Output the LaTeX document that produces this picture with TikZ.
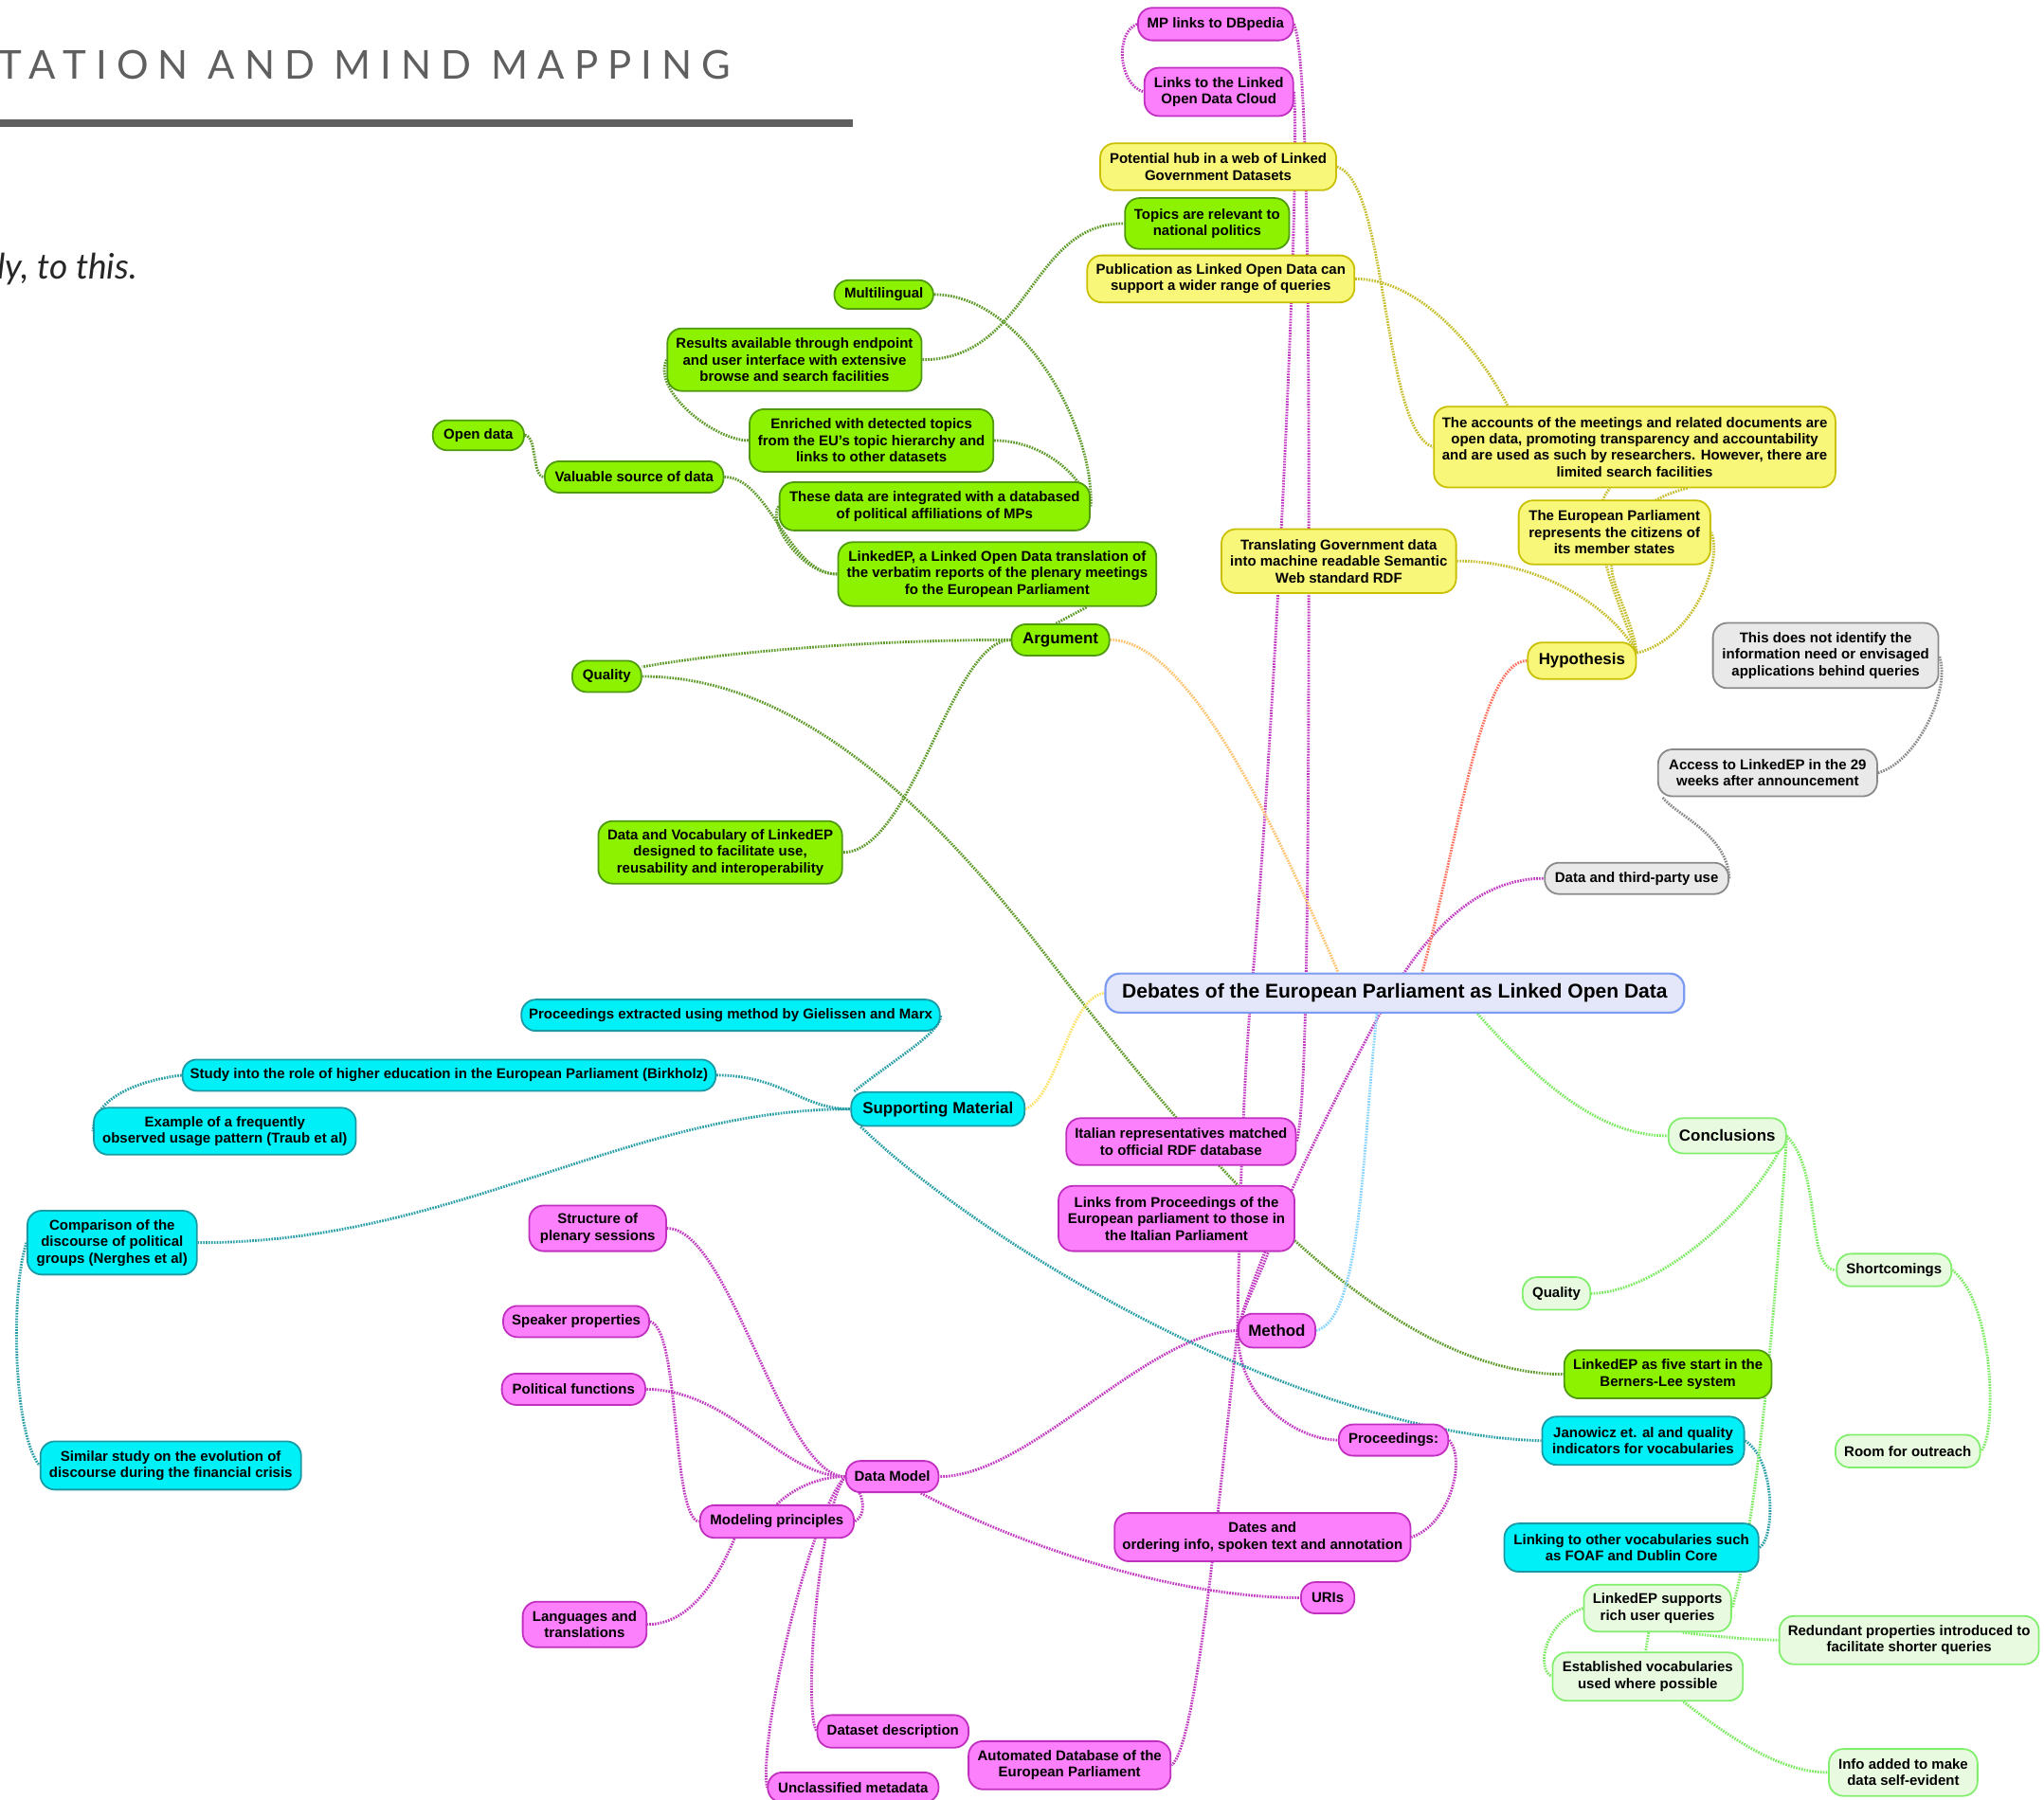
\documentclass[tikz,border=0pt]{standalone}
\usepackage{fontspec}
\setmainfont{Liberation Sans}
\newfontfamily\titlefont{Lato}[LetterSpace=24]
\newfontfamily\subfont{Lato}
\pgfdeclarelayer{bg}
\pgfsetlayers{bg,main}
\definecolor{gfill}{HTML}{8CF200}
\definecolor{gdraw}{HTML}{4F9A10}
\definecolor{gline}{HTML}{5E9B2A}
\definecolor{yfill}{HTML}{F9F77A}
\definecolor{ydraw}{HTML}{C8C000}
\definecolor{yline}{HTML}{C6BE2C}
\definecolor{mfill}{HTML}{FC80FC}
\definecolor{mdraw}{HTML}{C02FC0}
\definecolor{mline}{HTML}{C23AC2}
\definecolor{cfill}{HTML}{00F0F8}
\definecolor{cdraw}{HTML}{1A9AA4}
\definecolor{cline}{HTML}{2A9FA8}
\definecolor{grfill}{HTML}{E9E9E9}
\definecolor{grdraw}{HTML}{8A8A8A}
\definecolor{grline}{HTML}{8A8A8A}
\definecolor{lgfill}{HTML}{E8FBE0}
\definecolor{lgdraw}{HTML}{82EE6E}
\definecolor{lgline}{HTML}{7DEB62}
\definecolor{ctfill}{HTML}{E4E6FA}
\definecolor{ctdraw}{HTML}{7B9CF2}
\definecolor{orangeline}{HTML}{FFC36E}
\definecolor{redline}{HTML}{FF6F5E}
\definecolor{lblueline}{HTML}{86D3FF}
\definecolor{yline2}{HTML}{FFE36A}
\definecolor{titlegray}{HTML}{5F5F5F}
\tikzset{
  base/.style={draw, rounded corners=11pt, line width=1.3pt, align=center, inner sep=1pt,
    font=\bfseries\fontsize{10.9}{12.7}\selectfont, text=black},
  big/.style={font=\bfseries\fontsize{12.3}{14}\selectfont},
  gbox/.style={base, fill=gfill, draw=gdraw},
  ybox/.style={base, fill=yfill, draw=ydraw},
  mbox/.style={base, fill=mfill, draw=mdraw},
  cbox/.style={base, fill=cfill, draw=cdraw},
  grbox/.style={base, fill=grfill, draw=grdraw},
  lgbox/.style={base, fill=lgfill, draw=lgdraw},
  ctbox/.style={base, fill=ctfill, draw=ctdraw, line width=1.6pt, font=\bfseries\fontsize{15.3}{17}\selectfont},
  conn/.style={line width=2.1pt, dash pattern=on 1.2pt off 0.9pt},
}
\newcommand{\mmnode}[6]{\node[#1, minimum width=#4, minimum height=#5] (#2) at (#3) {#6};}
\begin{document}
\begin{tikzpicture}[x=1pt,y=-1pt]
\useasboundingbox (0,0) rectangle (1568,1381);
% header
\node[anchor=west, inner sep=0, text=titlegray, font=\titlefont\fontsize{30.5}{30.5}\selectfont] (title) at (-1,50) {TATION AND MIND MAPPING};
\fill[titlegray] (0,91.5) rectangle (654,97.5);
\node[anchor=base west, inner sep=0, text=black!85, font=\subfont\itshape\fontsize{27}{27}\selectfont] (sub) at (-2,214) {ly, to this.};
% central
\mmnode{ctbox}{central}{1070,762}{444}{30}{Debates of the European Parliament as Linked Open Data}
% green
\mmnode{gbox}{multi}{678,226}{76}{22}{Multilingual}
\mmnode{gbox}{results}{609.5,276}{195}{48}{Results available through endpoint\\and user interface with extensive\\browse and search facilities}
\mmnode{gbox}{enriched}{668.5,338}{187}{48}{Enriched with detected topics\\from the EU's topic hierarchy and\\links to other datasets}
\mmnode{gbox}{opendata}{367,334}{70}{23}{Open data}
\mmnode{gbox}{valuable}{486.5,366}{137}{24}{Valuable source of data}
\mmnode{gbox}{thesedata}{717,388.5}{238}{37}{These data are integrated with a databased\\of political affiliations of MPs}
\mmnode{gbox}{linkedep}{765,440.5}{244}{49}{LinkedEP, a Linked Open Data translation of\\the verbatim reports of the plenary meetings\\fo the European Parliament}
\mmnode{gbox,big}{argument}{813.5,491}{75}{24}{Argument}
\mmnode{gbox}{quality1}{465.5,519}{53}{24}{Quality}
\mmnode{gbox}{datavoc}{552.5,654}{187}{48}{Data and Vocabulary of LinkedEP\\designed to facilitate use,\\reusability and interoperability}
\mmnode{gbox}{topics}{926,171.5}{126}{39}{Topics are relevant to\\national politics}
\mmnode{gbox}{fivestar}{1279.5,1054.5}{159}{37}{LinkedEP as five start in the\\Berners-Lee system}
% yellow
\mmnode{ybox}{hub}{934.5,128}{181}{36}{Potential hub in a web of Linked\\Government Datasets}
\mmnode{ybox}{publication}{936.5,214}{205}{36}{Publication as Linked Open Data can\\support a wider range of queries}
\mmnode{ybox}{accounts}{1254,343}{308}{62}{The accounts of the meetings and related documents are\\open data, promoting transparency and accountability\\and are used as such by researchers. However, there are\\limited search facilities}
\mmnode{ybox}{epnode}{1238.5,408.5}{147}{49}{The European Parliament\\represents the citizens of\\its member states}
\mmnode{ybox}{translating}{1027,430.5}{180}{49}{Translating Government data\\into machine readable Semantic\\Web standard RDF}
\mmnode{ybox,big}{hypothesis}{1213.5,507}{83}{28}{Hypothesis}
% magenta
\mmnode{mbox}{mplinks}{932.5,18.5}{119}{25}{MP links to DBpedia}
\mmnode{mbox}{lodcloud}{935,70.5}{114}{37}{Links to the Linked\\Open Data Cloud}
\mmnode{mbox}{italian}{906,876}{176}{36}{Italian representatives matched\\to official RDF database}
\mmnode{mbox}{linksfrom}{902.5,935}{181}{50}{Links from Proceedings of the\\European parliament to those in\\the Italian Parliament}
\mmnode{mbox,big}{method}{979.5,1021}{59}{26}{Method}
\mmnode{mbox}{proceedings}{1069,1105}{84}{24}{Proceedings:}
\mmnode{mbox}{dates}{968.5,1179.5}{227}{37}{Dates and\\ordering info, spoken text and annotation}
\mmnode{mbox}{uris}{1018.5,1226}{41}{24}{URIs}
\mmnode{mbox}{structure}{458.5,942.5}{105}{35}{Structure of\\plenary sessions}
\mmnode{mbox}{speaker}{442,1014}{112}{24}{Speaker properties}
\mmnode{mbox}{political}{440,1066}{110}{24}{Political functions}
\mmnode{mbox}{datamodel}{684.5,1133}{71}{24}{Data Model}
\mmnode{mbox}{modeling}{596,1167.5}{118}{25}{Modeling principles}
\mmnode{mbox}{languages}{448.5,1246.5}{95}{35}{Languages and\\translations}
\mmnode{mbox}{datasetdesc}{685,1328.5}{116}{25}{Dataset description}
\mmnode{mbox}{automated}{820.5,1354.5}{155}{37}{Automated Database of the\\European Parliament}
\mmnode{mbox}{unclassified}{654.5,1371.5}{131}{23}{Unclassified metadata}
% cyan
\mmnode{cbox}{procextracted}{560.5,779}{321}{24}{Proceedings extracted using method by Gielissen and Marx}
\mmnode{cbox}{study}{344.5,825}{409}{24}{Study into the role of higher education in the European Parliament (Birkholz)}
\mmnode{cbox}{example}{172.5,868}{201}{36}{Example of a frequently\\observed usage pattern (Traub et al)}
\mmnode{cbox,big}{supporting}{719.5,851}{133}{26}{Supporting Material}
\mmnode{cbox}{comparison}{86,953.5}{130}{49}{Comparison of the\\discourse of political\\groups (Nerghes et al)}
\mmnode{cbox}{similar}{131,1124.5}{200}{37}{Similar study on the evolution of\\discourse during the financial crisis}
\mmnode{cbox}{janowicz}{1260.5,1105.5}{155}{37}{Janowicz et. al and quality\\indicators for vocabularies}
\mmnode{cbox}{linking}{1251.5,1187.5}{195}{37}{Linking to other vocabularies such\\as FOAF and Dublin Core}
% gray
\mmnode{grbox}{thisdoes}{1400.5,503}{173}{50}{This does not identify the\\information need or envisaged\\applications behind queries}
\mmnode{grbox}{access}{1356,593}{168}{36}{Access to LinkedEP in the 29\\weeks after announcement}
\mmnode{grbox}{thirdparty}{1255.5,674}{141}{24}{Data and third-party use}
% light green
\mmnode{lgbox,big}{conclusions}{1325,871.5}{90}{27}{Conclusions}
\mmnode{lgbox}{quality2}{1194,992.5}{52}{25}{Quality}
\mmnode{lgbox}{shortcomings}{1453,974.5}{88}{25}{Shortcomings}
\mmnode{lgbox}{outreach}{1463.5,1113.5}{111}{25}{Room for outreach}
\mmnode{lgbox}{supports}{1271.5,1234}{113}{36}{LinkedEP supports\\rich user queries}
\mmnode{lgbox}{redundant}{1464.5,1258.5}{199}{37}{Redundant properties introduced to\\facilitate shorter queries}
\mmnode{lgbox}{established}{1264,1286.5}{146}{37}{Established vocabularies\\used where possible}
\mmnode{lgbox}{infoadded}{1460,1360}{114}{36}{Info added to make\\data self-evident}
% connectors
\begin{pgfonlayer}{bg}
% green
\draw[conn,gline] (argument.west) .. controls (650,491) and (540,503) .. (quality1.15);
\draw[conn,gline] (argument.west) .. controls (730,491) and (700,654) .. (datavoc.east);
\draw[conn,gline] (argument.105) -- (linkedep.-20);
\draw[conn,gline] (valuable.east) .. controls (590,366) and (605,441) .. (linkedep.west);
\draw[conn,gline] (thesedata.west) .. controls (588,400) and (615,441) .. (linkedep.west);
\draw[conn,gline] (opendata.east) .. controls (412,334) and (408,366) .. (valuable.west);
\draw[conn,gline] (results.west) .. controls (500,300) and (548,338) .. (enriched.west);
\draw[conn,gline] (results.east) .. controls (790,276) and (790,171) .. (topics.west);
\draw[conn,gline] (multi.east) .. controls (785,226) and (840,330) .. (thesedata.east);
\draw[conn,gline] (enriched.east) .. controls (800,338) and (830,365) .. (thesedata.east);
\draw[conn,gline] (quality1.east) .. controls (600,519) and (700,600) .. (800,730) .. controls (900,860) and (1050,1054) .. (fivestar.west);
% yellow
\draw[conn,yline] (hub.east) .. controls (1065,140) and (1060,330) .. (accounts.west);
\draw[conn,yline] (publication.east) .. controls (1085,214) and (1130,260) .. (accounts.162);
\draw[conn,yline] (translating.east) .. controls (1185,430) and (1240,470) .. (hypothesis.8);
\draw[conn,yline] (hypothesis.8) .. controls (1245,470) and (1212,400) .. (accounts.-121);
\draw[conn,yline] (hypothesis.8) .. controls (1300,490) and (1322,430) .. (epnode.east);
\draw[conn,yline] (hypothesis.8) .. controls (1252,475) and (1236,450) .. (epnode.-95);
\draw[conn,yline] (epnode.center) .. controls (1262,385) and (1280,378) .. (accounts.-38);
% gray
\draw[conn,grline] (thirdparty.east) .. controls (1325,640) and (1285,625) .. (access.-167);
\draw[conn,grline] (access.east) .. controls (1470,585) and (1497,530) .. (thisdoes.east);
% magenta
\draw[conn,mline] (mplinks.west) .. controls (855,25) and (858,65) .. (lodcloud.west);
\draw[conn,mline] (lodcloud.east) .. controls (998,150) and (975,600) .. (960,760) .. controls (952,850) and (950,980) .. (method.west);
\draw[conn,mline] (mplinks.east) .. controls (1002,40) and (1004,200) .. (1004,400) .. controls (1004,700) and (1002,850) .. (italian.east);
\draw[conn,mline] (method.west) .. controls (965,960) and (1020,850) .. (1060,775) .. controls (1090,720) and (1130,674) .. (thirdparty.west);
\draw[conn,mline] (method.west) .. controls (955,1000) and (968,975) .. (linksfrom.-20);
\draw[conn,mline] (method.west) .. controls (880,1022) and (790,1133) .. (datamodel.east);
\draw[conn,mline] (method.west) .. controls (950,1080) and (1000,1105) .. (proceedings.west);
\draw[conn,mline] (method.west) .. controls (935,1150) and (918,1340) .. (automated.east);
\draw[conn,mline] (proceedings.east) .. controls (1125,1120) and (1112,1170) .. (dates.east);
\draw[conn,mline] (datamodel.west) .. controls (600,1133) and (560,942) .. (structure.east);
\draw[conn,mline] (datamodel.west) .. controls (600,1133) and (560,1066) .. (political.east);
\draw[conn,mline] (datamodel.west) .. controls (625,1133) and (605,1145) .. (modeling.north);
\draw[conn,mline] (datamodel.west) .. controls (660,1140) and (668,1160) .. (modeling.east);
\draw[conn,mline] (datamodel.west) .. controls (628,1160) and (616,1310) .. (datasetdesc.west);
\draw[conn,mline] (datamodel.west) .. controls (622,1160) and (582,1330) .. (unclassified.west);
\draw[conn,mline] (datamodel.-30) .. controls (780,1185) and (900,1226) .. (uris.west);
\draw[conn,mline] (speaker.east) .. controls (522,1020) and (515,1165) .. (modeling.west);
\draw[conn,mline] (modeling.-158) .. controls (550,1212) and (530,1246) .. (languages.east);
% cyan
\draw[conn,cline] (study.east) .. controls (600,825) and (615,851) .. (supporting.west);
\draw[conn,cline] (supporting.168) .. controls (690,810) and (722,792) .. (procextracted.east);
\draw[conn,cline] (study.west) .. controls (100,830) and (72,845) .. (example.west);
\draw[conn,cline] (supporting.west) .. controls (480,851) and (350,954) .. (comparison.east);
\draw[conn,cline] (comparison.west) .. controls (8,990) and (10,1100) .. (similar.west);
\draw[conn,cline] (supporting.-167) .. controls (760,960) and (1000,1100) .. (janowicz.west);
\draw[conn,cline] (janowicz.east) .. controls (1362,1120) and (1362,1180) .. (linking.east);
% light green
\draw[conn,lgline] (central.-14) .. controls (1175,825) and (1225,872) .. (conclusions.west);
\draw[conn,lgline] (conclusions.east) .. controls (1345,930) and (1270,992) .. (quality2.east);
\draw[conn,lgline] (conclusions.east) .. controls (1398,900) and (1385,974) .. (shortcomings.west);
\draw[conn,lgline] (shortcomings.east) .. controls (1530,1000) and (1532,1100) .. (outreach.east);
\draw[conn,lgline] (conclusions.east) .. controls (1362,1000) and (1348,1170) .. (supports.east);
\draw[conn,lgline] (supports.west) .. controls (1185,1245) and (1178,1280) .. (established.west);
\draw[conn,lgline] (supports.-44) .. controls (1320,1256) and (1340,1258) .. (redundant.west);
\draw[conn,lgline] (supports.-110) -- (established.95);
\draw[conn,lgline] (established.-35) .. controls (1335,1340) and (1370,1360) .. (infoadded.west);
% main branches
\draw[conn,orangeline] (argument.east) .. controls (915,491) and (985,650) .. (central.160);
\draw[conn,redline] (hypothesis.west) .. controls (1135,507) and (1118,650) .. (central.37);
\draw[conn,yline2] (supporting.east) .. controls (812,840) and (820,765) .. (central.west);
\draw[conn,lblueline] (method.east) .. controls (1045,1012) and (1045,880) .. (central.-131);
\end{pgfonlayer}
\end{tikzpicture}
\end{document}
